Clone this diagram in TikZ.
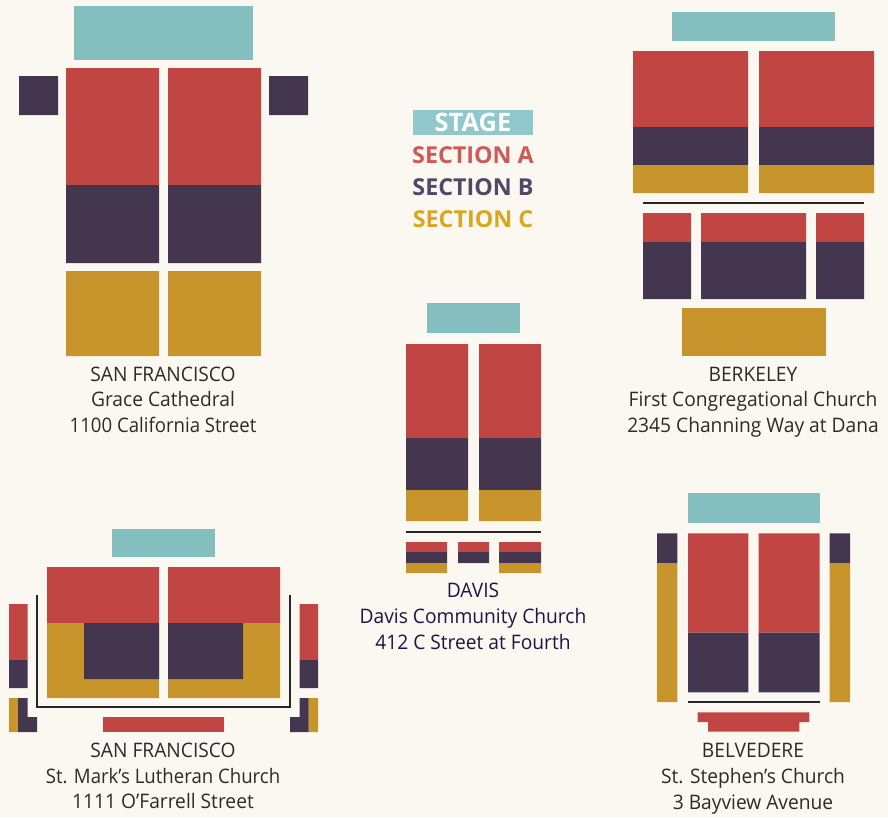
\documentclass[tikz,border=0pt]{standalone}
\usepackage{fontspec}
\setmainfont{Open Sans}
\newfontfamily\capfont[FakeStretch=0.96]{Open Sans}
\newfontfamily\tightfont[FakeStretch=0.93]{Open Sans}
\definecolor{bgc}{HTML}{FBF8F1}
\definecolor{tealc}{HTML}{85BEBF}
\definecolor{redc}{HTML}{C14542}
\definecolor{purc}{HTML}{453650}
\definecolor{golc}{HTML}{C7952B}
\definecolor{legteal}{HTML}{91C8CC}
\definecolor{legred}{HTML}{CD5A55}
\definecolor{legpur}{HTML}{544668}
\definecolor{leggol}{HTML}{DBA61F}
\definecolor{txtc}{HTML}{2E2A2B}
\definecolor{navc}{HTML}{1E1544}
\tikzset{
  caption/.style={inner sep=0pt,font=\capfont\fontsize{20}{22}\selectfont,text=txtc,anchor=base},
  tightcaption/.style={caption,font=\tightfont\fontsize{20}{22}\selectfont},
  navcaption/.style={caption,text=navc},
  legendtext/.style={inner sep=0pt,font=\fontsize{23.3}{25}\selectfont\bfseries,anchor=base},
  stagetext/.style={legendtext,font=\fontsize{25.4}{27}\selectfont\bfseries,text=white},
  rail/.style={draw=black!85,line width=1.8pt}
}
\begin{document}
\begin{tikzpicture}[x=1pt,y=-1pt]
\fill[bgc] (0,0) rectangle (888,817);
\useasboundingbox (0,0) rectangle (888,817);

% San Francisco, Grace Cathedral
\fill[tealc] (74,6) rectangle (253,60);
\fill[redc] (66,68) rectangle (159,185) (168,68) rectangle (261,185);
\fill[purc] (66,185) rectangle (159,263) (168,185) rectangle (261,263);
\fill[golc] (66,271) rectangle (159,356) (168,271) rectangle (261,356);
\fill[purc] (19,76) rectangle (58,115) (269,76) rectangle (308,115);
\node[caption] (g1) at (163,381) {SAN FRANCISCO};
\node[caption] (g2) at (163,406) {Grace Cathedral};
\node[tightcaption] (g3) at (163,432) {1100 California Street};

% Berkeley
\fill[tealc] (672,12) rectangle (835,41);
\fill[redc] (633,51) rectangle (748,127) (759,51) rectangle (874,127);
\fill[purc] (633,127) rectangle (748,165) (759,127) rectangle (874,165);
\fill[golc] (633,165) rectangle (748,193) (759,165) rectangle (874,193);
\draw[rail] (643,203) -- (864,203);
\fill[redc] (643,213) rectangle (691,242) (701,213) rectangle (806,242) (816,213) rectangle (864,242);
\fill[purc] (643,242) rectangle (691,299) (701,242) rectangle (806,299) (816,242) rectangle (864,299);
\fill[golc] (682,308) rectangle (826,356);
\node[caption] (b1) at (753,381) {BERKELEY};
\node[caption] (b2) at (753,406) {First Congregational Church};
\node[caption] (b3) at (753,432) {2345 Channing Way at Dana};

% Legend
\fill[legteal] (413,110) rectangle (533,135);
\node[stagetext] (l0) at (473,131.9) {STAGE};
\node[legendtext,text=legred] (l1) at (473,163.4) {SECTION A};
\node[legendtext,text=legpur] (l2) at (473,195.5) {SECTION B};
\node[legendtext,text=leggol] (l3) at (473,227.4) {SECTION C};

% Davis
\fill[tealc] (427,303) rectangle (520,333);
\fill[redc] (406,344) rectangle (468,438) (479,344) rectangle (541,438);
\fill[purc] (406,438) rectangle (468,490) (479,438) rectangle (541,490);
\fill[golc] (406,490) rectangle (468,521) (479,490) rectangle (541,521);
\draw[rail] (406,531.7) -- (541,531.7);
\fill[redc] (406,542) rectangle (447,552) (458,542) rectangle (489,552) (499,542) rectangle (541,552);
\fill[purc] (406,552) rectangle (447,563) (458,552) rectangle (489,563) (499,552) rectangle (541,563);
\fill[golc] (406,563) rectangle (447,573) (499,563) rectangle (541,573);
\node[navcaption] (d1) at (473,597.5) {DAVIS};
\node[navcaption] (d2) at (473,623.5) {Davis Community Church};
\node[navcaption] (d3) at (473,649) {412 C Street at Fourth};

% San Francisco, St. Mark's
\fill[tealc] (112,529) rectangle (215,557);
\fill[redc] (47,567) rectangle (159,623) (168,567) rectangle (280,623);
\fill[golc] (47,623) rectangle (159,698) (168,623) rectangle (280,698);
\fill[purc] (84,623) rectangle (159,679) (168,623) rectangle (243,679);
\draw[rail] (36.7,595) -- (36.7,707) -- (290,707) -- (290,595);
\fill[redc] (9,604) rectangle (27.7,660) (299.5,604) rectangle (318,660);
\fill[purc] (9,660) rectangle (27.7,688) (299.5,660) rectangle (318,688);
\fill[golc] (9,698) rectangle (18,732) (308.7,698) rectangle (318,732);
\fill[purc] (18,698) -- (27.5,698) -- (27.5,717) -- (37,717) -- (37,732) -- (18,732) -- cycle;
\fill[purc] (308.7,698) -- (299.5,698) -- (299.5,717) -- (290,717) -- (290,732) -- (308.7,732) -- cycle;
\fill[redc] (102.7,717) rectangle (224.3,732);
\node[caption] (m1) at (163,757.7) {SAN FRANCISCO};
\node[tightcaption] (m2) at (163,783) {St. Mark’s Lutheran Church};
\node[caption] (m3) at (163,808.7) {1111 O’Farrell Street};

% Belvedere
\fill[tealc] (688,493) rectangle (819.7,523);
\fill[redc] (688,533.3) rectangle (748.3,632.7) (758.7,533.3) rectangle (819.7,632.7);
\fill[purc] (688,632.7) rectangle (748.3,692.3) (758.7,632.7) rectangle (819.7,692.3);
\fill[purc] (657,533.3) rectangle (677.3,563) (829.7,533.3) rectangle (850,563);
\fill[golc] (657,563) rectangle (677.3,702) (829.7,563) rectangle (850,702);
\draw[rail] (688,702.3) -- (819.7,702.3);
\fill[redc] (697.7,712.3) -- (809.3,712.3) -- (809.3,722) -- (799.3,722) -- (799.3,731.7) -- (708,731.7) -- (708,722) -- (697.7,722) -- cycle;
\node[caption] (v1) at (753,757.7) {BELVEDERE};
\node[caption] (v2) at (753,783) {St. Stephen’s Church};
\node[caption] (v3) at (753,809) {3 Bayview Avenue};
\end{tikzpicture}
\end{document}
